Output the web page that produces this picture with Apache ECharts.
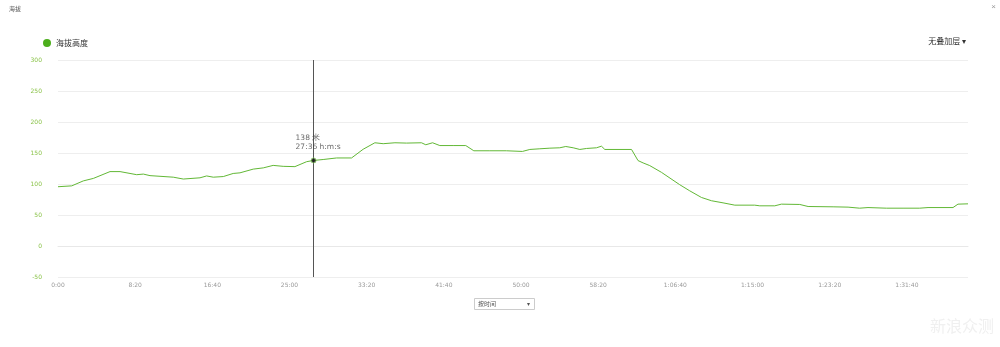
<!DOCTYPE html>
<html>
<head>
<meta charset="utf-8">
<script src="https://cdn.jsdelivr.net/npm/echarts@6/dist/echarts.min.js"></script>
<style>
html,body{margin:0;padding:0;background:#fff;}
#c{width:1000px;height:347px;}
</style>
</head>
<body>
<div id="c"></div>
<script>
// elapsed time in seconds
var times = [0,89,164,229,337,402,510,553,596,747,812,920,963,1006,1071,1135,1179,1265,1330,1394,1459,1535,1611,1656,1718,1805,1902,1977,2053,2107,2183,2258,2355,2383,2427,2474,2560,2642,2694,2798,2905,3009,3057,3122,3187,3251,3290,3338,3381,3424,3489,3521,3543,3716,3758,3791,3834,3910,4028,4093,4169,4234,4309,4385,4514,4547,4644,4687,4806,4860,5022,5119,5194,5248,5367,5475,5583,5637,5799,5831,5896];
// elevation in metres
var elevations = [95.6,97,105,109,120,120,115,116,113.5,111,108,110,113,111,112,117,118,124,126,130,128.5,128,136,138,139.5,142,142,156,166.5,165,166.5,166,166.5,163.3,166.5,162,162,162,153.6,153.6,153.6,152.5,155.7,156.8,157.8,158.4,160.5,158.4,155.7,157.3,158.4,161,155.7,155.7,137.8,134,129.7,118.8,98.9,89,78.3,73,69.6,65.9,65.9,64.8,64.8,67.5,67,63.7,63.2,62.7,61,62,61,61,61,62,62,67.5,68];
var cursorTime = 1656;
var cursorElev = 138;
var yTicks = {min:-50, max:300, interval:50};
var xTicks = {min:0, interval:500};

function fmt(s){
  s = Math.round(s);
  var h = Math.floor(s/3600), m = Math.floor((s%3600)/60), sec = s%60;
  var ss = (sec<10?'0':'')+sec;
  if(h>0){ return h+':'+(m<10?'0':'')+m+':'+ss; }
  return m+':'+ss;
}

var data = times.map(function(t,i){return [t, elevations[i]];});
var chart = echarts.init(document.getElementById('c'), null, {renderer:'canvas'});
chart.setOption({
  animation:false,
  backgroundColor:'#fff',
  title:{text:'海拔', left:4, top:1, textStyle:{fontSize:6, fontWeight:'normal', color:'#555', fontFamily:'Noto Sans CJK SC'}},
  legend:{
    left:38, top:34, itemWidth:8, itemHeight:8, itemGap:4,
    data:[{name:'海拔高度', icon:'circle'}],
    textStyle:{fontSize:8, color:'#333', fontFamily:'Noto Sans CJK SC'}
  },
  grid:{left:58, right:32, top:60, bottom:70},
  xAxis:{
    type:'value', min:xTicks.min, max:times[times.length-1], interval:xTicks.interval,
    axisLine:{show:true, lineStyle:{color:'#e8e8e8'}},
    axisTick:{show:false},
    splitLine:{show:false},
    axisLabel:{showMaxLabel:false, fontSize:6, color:'#999', margin:5, fontFamily:'DejaVu Sans', formatter:function(v){return fmt(v);}}
  },
  yAxis:{
    type:'value', min:yTicks.min, max:yTicks.max, interval:yTicks.interval,
    axisLine:{show:false}, axisTick:{show:false},
    splitLine:{lineStyle:{color:'#eeeeee'}},
    axisLabel:{fontSize:6, color:'#8bc34a', margin:16, fontFamily:'DejaVu Sans'}
  },
  series:[
    {
      name:'海拔高度', type:'line', data:data, showSymbol:false, smooth:false,
      itemStyle:{color:'#4cae1c'},
      lineStyle:{color:'#62b836', width:1},
      markLine:{
        silent:true, symbol:'none', label:{show:false},
        lineStyle:{color:'#555', width:1, type:'solid'},
        data:[{xAxis:cursorTime}]
      }
    },
    {
      name:'cursor', type:'scatter', data:[[cursorTime, cursorElev]],
      symbol:'circle', symbolSize:5,
      itemStyle:{color:'#111', borderColor:'#8fd06a', borderWidth:1},
      label:{
        show:true, position:'top', distance:6, align:'left', offset:[-18,0],
        fontSize:7.5, lineHeight:9, color:'#444', fontFamily:'DejaVu Sans',
        formatter:function(p){return Math.round(p.value[1])+' 米\n'+fmt(p.value[0])+' h:m:s';}
      },
      z:5
    }
  ],
  graphic:[
    {type:'text', right:4, top:3, style:{text:'×', fontSize:8, fill:'#999'}},
    {type:'text', right:34, top:37, style:{text:'无叠加层 ▾', fontSize:8, fill:'#333', fontFamily:'Noto Sans CJK SC'}},
    {type:'rect', left:474, top:298, shape:{width:60, height:11}, style:{fill:'#fff', stroke:'#ccc', lineWidth:1}},
    {type:'text', left:478, top:301, style:{text:'按时间', fontSize:6, fill:'#555', fontFamily:'Noto Sans CJK SC'}},
    {type:'text', left:527, top:301, style:{text:'▾', fontSize:6, fill:'#555'}},
    {type:'text', right:6, top:318, style:{text:'新浪众测', fontSize:16, fill:'#f0f0f0', fontFamily:'Noto Sans CJK SC'}}
  ]
});
</script>
</body>
</html>
